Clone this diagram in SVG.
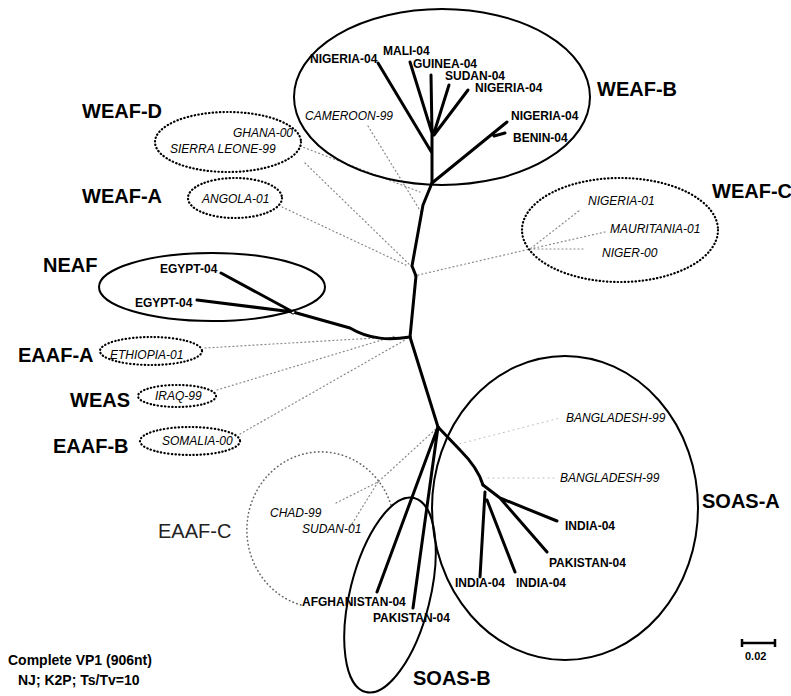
<svg xmlns="http://www.w3.org/2000/svg" width="791" height="696" viewBox="0 0 791 696">
<style>
text{font-family:"Liberation Sans",Arial,sans-serif;fill:#000}
.grp{font-size:20px;font-weight:bold}
.grpn{font-size:20px;font-weight:normal;fill:#222}
.lf{font-size:12px;font-weight:bold}
.it{font-size:12px;font-style:italic}
.foot{font-size:14px;font-weight:bold}
.br{fill:none;stroke:#000;stroke-width:3;stroke-linecap:round;stroke-linejoin:round}
.fd{fill:none;stroke:#888;stroke-width:1.2;stroke-dasharray:1 3;stroke-linecap:round}
.fl{fill:none;stroke:#bbb;stroke-width:1;stroke-dasharray:1 4;stroke-linecap:round}
.sol{fill:none;stroke:#000;stroke-width:2}
.dot{fill:none;stroke:#000;stroke-width:2.2;stroke-dasharray:0.4 3.2;stroke-linecap:round}
.dotl{fill:none;stroke:#666;stroke-width:1.6;stroke-dasharray:0.4 3.6;stroke-linecap:round}
</style>
<rect width="791" height="696" fill="#fff"/>
<g id="connectors">
<!-- faint dotted branches -->
<path class="fd" d="M368,126 L421,212"/>
<path class="fd" d="M300,146 L420,192"/>
<path class="fd" d="M305,163 L412,267"/>
<path class="fd" d="M282,207 L408,266"/>
<path class="fd" d="M414,276 L530,249 L580,210 M530,249 L605,232 M530,249 L585,249"/>
<path class="fd" d="M205,348 L375,338"/>
<path class="fd" d="M217,390 L395,336"/>
<path class="fd" d="M240,434 L405,340"/>
<path class="fd" d="M336,503 L378,482 L437,428 M350,527 L378,482"/>
<path class="fl" d="M455,445 L560,418 M488,478 L555,478"/>
<!-- tree branches -->
<path class="br" d="M378,63 L432,153 M410,62 L432,133 M431,75 L432,133 M449,85 L434,133 M468,90 L434,135 M432,133 L432,183"/>
<path class="br" d="M432,183 L507,122 M494,136 L505,133"/>
<path class="br" d="M432,183 L423,205 L412,266 L416,276 L410,337"/>
<path class="br" d="M410,337 C390,340 370,340 350,328 L293,312 M293,312 L221,273 M293,312 L197,300"/>
<circle cx="293" cy="312" r="2" fill="#fff" stroke="#000" stroke-width="1"/>
<path class="br" d="M410,337 L438,427"/>
<path class="br" d="M438,427 L460,450 Q478,468 483,485"/>
<path class="br" d="M483,485 L500,498 L557,521 M500,498 L547,552 M485,492 L480,577 M487,500 L515,572"/>
<path class="br" d="M438,427 L377,592 M438,427 L413,608"/>
</g>
<g id="weaf-b">
<ellipse class="sol" cx="442" cy="97" rx="148" ry="88"/>
<text class="grp" x="597" y="96">WEAF-B</text>
<text class="lf" x="310" y="63">NIGERIA-04</text>
<text class="lf" x="383" y="55">MALI-04</text>
<text class="lf" x="413" y="68">GUINEA-04</text>
<text class="lf" x="445" y="80">SUDAN-04</text>
<text class="lf" x="475" y="92">NIGERIA-04</text>
<text class="lf" x="511" y="120">NIGERIA-04</text>
<text class="lf" x="513" y="142">BENIN-04</text>
<text class="it" x="305" y="120">CAMEROON-99</text>
</g>
<g id="weaf-d">
<ellipse class="dot" cx="228" cy="142" rx="73" ry="30"/>
<text class="grp" x="82" y="118">WEAF-D</text>
<text class="it" x="233" y="137">GHANA-00</text>
<text class="it" x="170" y="153">SIERRA LEONE-99</text>
</g>
<g id="weaf-a">
<ellipse class="dot" cx="235" cy="198" rx="47" ry="20"/>
<text class="grp" x="82" y="203">WEAF-A</text>
<text class="it" x="202" y="203">ANGOLA-01</text>
</g>
<g id="weaf-c">
<ellipse class="dot" cx="620" cy="230" rx="98" ry="52"/>
<text class="grp" x="712" y="198">WEAF-C</text>
<text class="it" x="588" y="205">NIGERIA-01</text>
<text class="it" x="610" y="233">MAURITANIA-01</text>
<text class="it" x="602" y="257">NIGER-00</text>
</g>
<g id="neaf">
<ellipse class="sol" cx="212" cy="287" rx="113" ry="34"/>
<text class="grp" x="43" y="272">NEAF</text>
<text class="lf" x="160" y="273">EGYPT-04</text>
<text class="lf" x="135" y="307">EGYPT-04</text>
</g>
<g id="eaaf-a">
<ellipse class="dot" cx="151" cy="351" rx="51" ry="14"/>
<text class="grp" x="18" y="362">EAAF-A</text>
<text class="it" x="110" y="359">ETHIOPIA-01</text>
</g>
<g id="weas">
<ellipse class="dot" cx="177" cy="396" rx="39" ry="11"/>
<text class="grp" x="70" y="407">WEAS</text>
<text class="it" x="155" y="400">IRAQ-99</text>
</g>
<g id="eaaf-b">
<ellipse class="dot" cx="190" cy="441" rx="50" ry="14"/>
<text class="grp" x="53" y="453">EAAF-B</text>
<text class="it" x="162" y="445">SOMALIA-00</text>
</g>
<g id="eaaf-c">
<path class="dotl" d="M391,505 A74,78 0 1,0 301,605"/>
<text class="grpn" x="158" y="538">EAAF-C</text>
<text class="it" x="270" y="517">CHAD-99</text>
<text class="it" x="302" y="533">SUDAN-01</text>
</g>
<g id="soas-a">
<ellipse class="sol" cx="565" cy="508" rx="133" ry="152"/>
<text class="grp" x="702" y="508">SOAS-A</text>
<text class="it" x="566" y="422">BANGLADESH-99</text>
<text class="it" x="560" y="482">BANGLADESH-99</text>
<text class="lf" x="565" y="530">INDIA-04</text>
<text class="lf" x="549" y="567">PAKISTAN-04</text>
<text class="lf" x="516" y="587">INDIA-04</text>
<text class="lf" x="455" y="587">INDIA-04</text>
</g>
<g id="soas-b">
<ellipse class="sol" cx="390" cy="595" rx="40" ry="100" transform="rotate(14 390 595)"/>
<text class="grp" x="413" y="685">SOAS-B</text>
<text class="lf" x="302" y="606">AFGHANISTAN-04</text>
<text class="lf" x="373" y="622">PAKISTAN-04</text>
</g>
<g id="legend">
<text class="foot" x="8" y="665">Complete VP1 (906nt)</text>
<text class="foot" x="18" y="685">NJ; K2P; Ts/Tv=10</text>
</g>
<g id="scale">
<path d="M742,643 L775,643 M742,639 L742,647 M775,639 L775,647" stroke="#000" stroke-width="2.5" fill="none"/>
<text x="745" y="660" style="font-size:11px;font-weight:bold">0.02</text>
</g>
</svg>
